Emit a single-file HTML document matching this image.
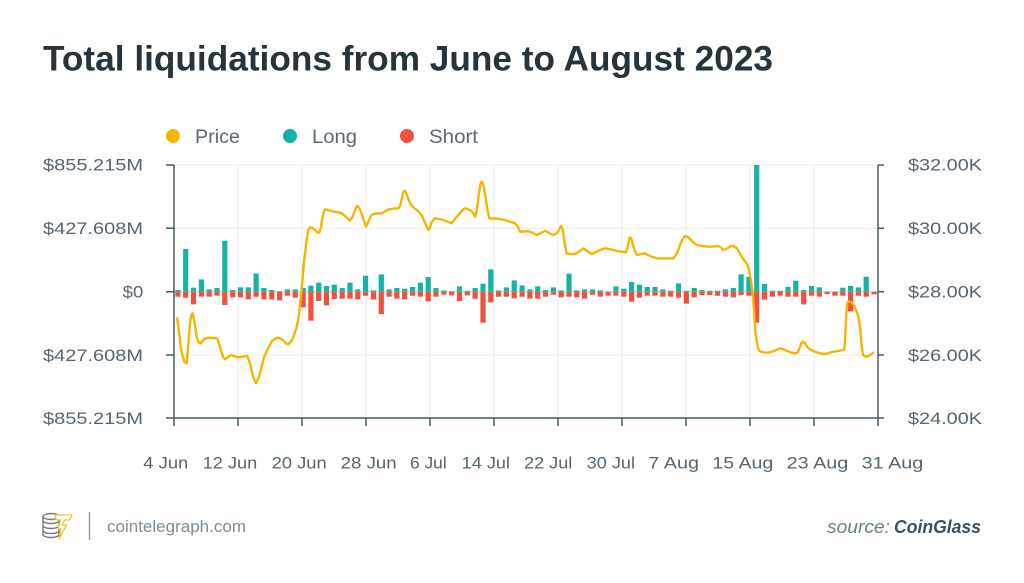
<!DOCTYPE html>
<html><head><meta charset="utf-8"><style>
html,body{margin:0;padding:0;background:#fff;}
svg{display:block;}
text{font-family:"Liberation Sans",sans-serif;}
</style></head><body>
<svg width="1024" height="583" viewBox="0 0 1024 583" xmlns="http://www.w3.org/2000/svg">
<rect width="1024" height="583" fill="#fff"/>
<text x="43" y="70.5" font-size="35" font-weight="bold" fill="#27343c" textLength="730" lengthAdjust="spacingAndGlyphs">Total liquidations from June to August 2023</text>
<circle cx="173" cy="136" r="7" fill="#f6b500"/>
<text x="195" y="143" font-size="19" fill="#5a6a74" textLength="45" lengthAdjust="spacingAndGlyphs">Price</text>
<circle cx="290" cy="136" r="7" fill="#14b3a6"/>
<text x="312" y="143" font-size="19" fill="#5a6a74" textLength="45" lengthAdjust="spacingAndGlyphs">Long</text>
<circle cx="407" cy="136" r="7" fill="#f1503c"/>
<text x="429" y="143" font-size="19" fill="#5a6a74" textLength="49" lengthAdjust="spacingAndGlyphs">Short</text>
<g stroke="#ececec" stroke-width="1">
<line x1="174" y1="165" x2="878" y2="165"/>
<line x1="174" y1="228.3" x2="878" y2="228.3"/>
<line x1="174" y1="355" x2="878" y2="355"/>
<line x1="238" y1="165" x2="238" y2="418"/>
<line x1="302" y1="165" x2="302" y2="418"/>
<line x1="366" y1="165" x2="366" y2="418"/>
<line x1="430" y1="165" x2="430" y2="418"/>
<line x1="494" y1="165" x2="494" y2="418"/>
<line x1="558" y1="165" x2="558" y2="418"/>
<line x1="622" y1="165" x2="622" y2="418"/>
<line x1="686" y1="165" x2="686" y2="418"/>
<line x1="750" y1="165" x2="750" y2="418"/>
<line x1="814" y1="165" x2="814" y2="418"/>
</g>
<g fill="#14b3a6">
<rect x="175.3" y="290" width="5.2" height="1.7"/>
<rect x="183.1" y="249" width="5.2" height="42.7"/>
<rect x="190.9" y="287.7" width="5.2" height="4"/>
<rect x="198.8" y="279.4" width="5.2" height="12.3"/>
<rect x="206.6" y="289.4" width="5.2" height="2.3"/>
<rect x="214.4" y="288" width="5.2" height="3.7"/>
<rect x="222.2" y="240.7" width="5.2" height="51"/>
<rect x="230.1" y="290" width="5.2" height="1.7"/>
<rect x="237.9" y="287.4" width="5.2" height="4.3"/>
<rect x="245.7" y="287.4" width="5.2" height="4.3"/>
<rect x="253.5" y="273.4" width="5.2" height="18.3"/>
<rect x="261.3" y="288" width="5.2" height="3.7"/>
<rect x="269.2" y="290" width="5.2" height="1.7"/>
<rect x="277" y="291.2" width="5.2" height="0.5"/>
<rect x="284.8" y="289.4" width="5.2" height="2.3"/>
<rect x="292.6" y="289.4" width="5.2" height="2.3"/>
<rect x="300.5" y="288" width="5.2" height="3.7"/>
<rect x="308.3" y="285.7" width="5.2" height="6"/>
<rect x="316.1" y="282.7" width="5.2" height="9"/>
<rect x="323.9" y="286" width="5.2" height="5.7"/>
<rect x="331.7" y="284.7" width="5.2" height="7"/>
<rect x="339.6" y="288" width="5.2" height="3.7"/>
<rect x="347.4" y="282.7" width="5.2" height="9"/>
<rect x="355.2" y="289.4" width="5.2" height="2.3"/>
<rect x="363" y="275.7" width="5.2" height="16"/>
<rect x="370.9" y="290.4" width="5.2" height="1.3"/>
<rect x="378.7" y="274.4" width="5.2" height="17.3"/>
<rect x="386.5" y="289.4" width="5.2" height="2.3"/>
<rect x="394.3" y="288" width="5.2" height="3.7"/>
<rect x="402.1" y="288.7" width="5.2" height="3"/>
<rect x="410" y="287" width="5.2" height="4.7"/>
<rect x="417.8" y="282.7" width="5.2" height="9"/>
<rect x="425.6" y="277" width="5.2" height="14.7"/>
<rect x="433.4" y="288" width="5.2" height="3.7"/>
<rect x="441.3" y="290.4" width="5.2" height="1.3"/>
<rect x="449.1" y="291.2" width="5.2" height="0.5"/>
<rect x="456.9" y="286.4" width="5.2" height="5.3"/>
<rect x="464.7" y="290.7" width="5.2" height="1"/>
<rect x="472.5" y="288" width="5.2" height="3.7"/>
<rect x="480.4" y="283.7" width="5.2" height="8"/>
<rect x="488.2" y="269.4" width="5.2" height="22.3"/>
<rect x="496" y="290.4" width="5.2" height="1.3"/>
<rect x="503.8" y="287.4" width="5.2" height="4.3"/>
<rect x="511.6" y="280.4" width="5.2" height="11.3"/>
<rect x="519.5" y="285.4" width="5.2" height="6.3"/>
<rect x="527.3" y="289.4" width="5.2" height="2.3"/>
<rect x="535.1" y="286.4" width="5.2" height="5.3"/>
<rect x="542.9" y="290" width="5.2" height="1.7"/>
<rect x="550.8" y="287.4" width="5.2" height="4.3"/>
<rect x="558.6" y="290.4" width="5.2" height="1.3"/>
<rect x="566.4" y="273.7" width="5.2" height="18"/>
<rect x="574.2" y="290.4" width="5.2" height="1.3"/>
<rect x="582" y="289.4" width="5.2" height="2.3"/>
<rect x="589.9" y="289.4" width="5.2" height="2.3"/>
<rect x="597.7" y="290.4" width="5.2" height="1.3"/>
<rect x="613.3" y="286.4" width="5.2" height="5.3"/>
<rect x="621.2" y="288.7" width="5.2" height="3"/>
<rect x="629" y="282" width="5.2" height="9.7"/>
<rect x="636.8" y="284.7" width="5.2" height="7"/>
<rect x="644.6" y="287" width="5.2" height="4.7"/>
<rect x="652.4" y="287" width="5.2" height="4.7"/>
<rect x="660.3" y="289.4" width="5.2" height="2.3"/>
<rect x="668.1" y="290.7" width="5.2" height="1"/>
<rect x="675.9" y="283.4" width="5.2" height="8.3"/>
<rect x="683.7" y="290.7" width="5.2" height="1"/>
<rect x="691.6" y="288" width="5.2" height="3.7"/>
<rect x="699.4" y="290" width="5.2" height="1.7"/>
<rect x="707.2" y="290.7" width="5.2" height="1"/>
<rect x="715" y="290.7" width="5.2" height="1"/>
<rect x="722.8" y="289.4" width="5.2" height="2.3"/>
<rect x="730.7" y="288" width="5.2" height="3.7"/>
<rect x="738.5" y="274.4" width="5.2" height="17.3"/>
<rect x="746.3" y="276.7" width="5.2" height="15"/>
<rect x="754.1" y="165" width="5.2" height="126.7"/>
<rect x="762" y="284" width="5.2" height="7.7"/>
<rect x="769.8" y="290.7" width="5.2" height="1"/>
<rect x="777.6" y="290.7" width="5.2" height="1"/>
<rect x="785.4" y="287" width="5.2" height="4.7"/>
<rect x="793.2" y="280.7" width="5.2" height="11"/>
<rect x="801.1" y="290" width="5.2" height="1.7"/>
<rect x="808.9" y="286" width="5.2" height="5.7"/>
<rect x="816.7" y="287.4" width="5.2" height="4.3"/>
<rect x="840.2" y="287.7" width="5.2" height="4"/>
<rect x="848" y="286" width="5.2" height="5.7"/>
<rect x="855.8" y="287.4" width="5.2" height="4.3"/>
<rect x="863.6" y="276.7" width="5.2" height="15"/>
</g>
<g fill="#f1503c">
<rect x="175.3" y="291.7" width="5.2" height="5"/>
<rect x="183.1" y="291.7" width="5.2" height="6"/>
<rect x="190.9" y="291.7" width="5.2" height="12.7"/>
<rect x="198.8" y="291.7" width="5.2" height="5"/>
<rect x="206.6" y="291.7" width="5.2" height="5"/>
<rect x="214.4" y="291.7" width="5.2" height="4"/>
<rect x="222.2" y="291.7" width="5.2" height="13.3"/>
<rect x="230.1" y="291.7" width="5.2" height="5.7"/>
<rect x="237.9" y="291.7" width="5.2" height="5.7"/>
<rect x="245.7" y="291.7" width="5.2" height="7.7"/>
<rect x="253.5" y="291.7" width="5.2" height="5"/>
<rect x="261.3" y="291.7" width="5.2" height="7.7"/>
<rect x="269.2" y="291.7" width="5.2" height="7.7"/>
<rect x="277" y="291.7" width="5.2" height="8.7"/>
<rect x="284.8" y="291.7" width="5.2" height="4"/>
<rect x="292.6" y="291.7" width="5.2" height="6"/>
<rect x="300.5" y="291.7" width="5.2" height="15.7"/>
<rect x="308.3" y="291.7" width="5.2" height="29"/>
<rect x="316.1" y="291.7" width="5.2" height="9.3"/>
<rect x="323.9" y="291.7" width="5.2" height="13.7"/>
<rect x="331.7" y="291.7" width="5.2" height="7.3"/>
<rect x="339.6" y="291.7" width="5.2" height="7"/>
<rect x="347.4" y="291.7" width="5.2" height="7"/>
<rect x="355.2" y="291.7" width="5.2" height="7.7"/>
<rect x="363" y="291.7" width="5.2" height="4"/>
<rect x="370.9" y="291.7" width="5.2" height="7.7"/>
<rect x="378.7" y="291.7" width="5.2" height="22.3"/>
<rect x="386.5" y="291.7" width="5.2" height="5"/>
<rect x="394.3" y="291.7" width="5.2" height="7"/>
<rect x="402.1" y="291.7" width="5.2" height="7.7"/>
<rect x="410" y="291.7" width="5.2" height="4"/>
<rect x="417.8" y="291.7" width="5.2" height="5"/>
<rect x="425.6" y="291.7" width="5.2" height="9.7"/>
<rect x="433.4" y="291.7" width="5.2" height="5"/>
<rect x="441.3" y="291.7" width="5.2" height="3"/>
<rect x="449.1" y="291.7" width="5.2" height="3.7"/>
<rect x="456.9" y="291.7" width="5.2" height="9.3"/>
<rect x="464.7" y="291.7" width="5.2" height="3.7"/>
<rect x="472.5" y="291.7" width="5.2" height="7"/>
<rect x="480.4" y="291.7" width="5.2" height="31"/>
<rect x="488.2" y="291.7" width="5.2" height="10.7"/>
<rect x="496" y="291.7" width="5.2" height="5"/>
<rect x="503.8" y="291.7" width="5.2" height="5"/>
<rect x="511.6" y="291.7" width="5.2" height="6.7"/>
<rect x="519.5" y="291.7" width="5.2" height="5"/>
<rect x="527.3" y="291.7" width="5.2" height="7"/>
<rect x="535.1" y="291.7" width="5.2" height="7"/>
<rect x="542.9" y="291.7" width="5.2" height="5"/>
<rect x="550.8" y="291.7" width="5.2" height="3"/>
<rect x="558.6" y="291.7" width="5.2" height="5.7"/>
<rect x="566.4" y="291.7" width="5.2" height="5"/>
<rect x="574.2" y="291.7" width="5.2" height="5.7"/>
<rect x="582" y="291.7" width="5.2" height="7"/>
<rect x="589.9" y="291.7" width="5.2" height="3"/>
<rect x="597.7" y="291.7" width="5.2" height="5"/>
<rect x="605.5" y="291.7" width="5.2" height="4"/>
<rect x="613.3" y="291.7" width="5.2" height="4"/>
<rect x="621.2" y="291.7" width="5.2" height="5"/>
<rect x="629" y="291.7" width="5.2" height="10"/>
<rect x="636.8" y="291.7" width="5.2" height="6"/>
<rect x="644.6" y="291.7" width="5.2" height="4"/>
<rect x="652.4" y="291.7" width="5.2" height="4"/>
<rect x="660.3" y="291.7" width="5.2" height="5"/>
<rect x="668.1" y="291.7" width="5.2" height="5"/>
<rect x="675.9" y="291.7" width="5.2" height="6"/>
<rect x="683.7" y="291.7" width="5.2" height="12"/>
<rect x="691.6" y="291.7" width="5.2" height="5.7"/>
<rect x="699.4" y="291.7" width="5.2" height="3.3"/>
<rect x="707.2" y="291.7" width="5.2" height="3.3"/>
<rect x="715" y="291.7" width="5.2" height="4"/>
<rect x="722.8" y="291.7" width="5.2" height="5"/>
<rect x="730.7" y="291.7" width="5.2" height="5.7"/>
<rect x="738.5" y="291.7" width="5.2" height="3.3"/>
<rect x="746.3" y="291.7" width="5.2" height="4"/>
<rect x="754.1" y="291.7" width="5.2" height="31"/>
<rect x="762" y="291.7" width="5.2" height="8"/>
<rect x="769.8" y="291.7" width="5.2" height="5"/>
<rect x="777.6" y="291.7" width="5.2" height="4"/>
<rect x="785.4" y="291.7" width="5.2" height="5"/>
<rect x="793.2" y="291.7" width="5.2" height="5"/>
<rect x="801.1" y="291.7" width="5.2" height="12.7"/>
<rect x="808.9" y="291.7" width="5.2" height="4"/>
<rect x="816.7" y="291.7" width="5.2" height="5"/>
<rect x="824.5" y="291.7" width="5.2" height="2.3"/>
<rect x="832.4" y="291.7" width="5.2" height="4"/>
<rect x="840.2" y="291.7" width="5.2" height="4"/>
<rect x="848" y="291.7" width="5.2" height="19.7"/>
<rect x="855.8" y="291.7" width="5.2" height="4"/>
<rect x="863.6" y="291.7" width="5.2" height="5"/>
<rect x="871.5" y="291.7" width="5.2" height="2.7"/>
</g>
<line x1="174" y1="291.7" x2="878" y2="291.7" stroke="#8f9ca3" stroke-opacity="0.55" stroke-width="1"/>
<polyline fill="none" stroke="#f6b500" stroke-width="2.4" stroke-linejoin="round" stroke-linecap="round" points="177.3,318.3 179,332 181,348 182.7,356.7 184.5,362 186.7,363.3 188.3,345 190,323.3 191.5,314.5 192.7,313.3 194.5,322 196.7,336.7 198.5,342 200.7,343.3 204,339 208.3,337.7 214,338 217.3,338.5 219.5,345 221,350 223,357 225,359.3 228,357 231.7,355 235,356.5 238.3,357.3 243,356.5 247.3,356 249.5,362 251,368 253.5,378 256,383.3 259,377 262,365 264.5,356 267.3,350 272,341 276.7,337.7 280,338.5 283,340 286,343.5 288.3,344.3 290.5,342 292,340 294.5,334 296.7,326.7 298.5,318 300,305 301.5,291 302.7,276.7 304,262 305.5,250 307,238 308.3,230 310,227.3 312.5,228 315,230 317.5,232.5 319.3,232.7 321,227 322,220 323.5,213 325,209.3 328,210 333.3,211.7 337,212 341.7,213.3 346,217 350,220.7 352.5,217 354,213 356,207.5 357.3,206 359,207.5 361,212 363.5,220 366,226.7 368,223 369,220 371,216 373.3,214 377,213.5 381.7,213.3 385,211.5 389.3,209.3 394,208.5 398.3,208.3 400,206 401.5,200 403,193 404,190.7 405.5,191.5 407,195 408.5,199.5 410,203.3 413,207 416.7,210 419.5,212.5 422,216 425.5,224 428.3,230 430,227.5 431.5,222.5 435,218.3 439,219 443.3,220 447,221.5 451.7,223.3 455,219 458.3,215 461.5,211 465,208.3 470,210 473,212.5 475,216.7 476.5,212 478,200 479.5,190 480.7,183 481.7,181.7 483,184 484,188 485,194 486,200 487.5,210 489.3,218.3 493,218.5 498.3,218.7 502,219.5 506.7,220.7 511,222 515,223.3 517.5,226 520,231.7 524,231.5 528.3,231 532,232.5 536.7,235 541,233 545,230.7 549,233 552.7,235 555.5,234 558,232 561,226 562.5,229 563.5,235 565,245 566.7,253.3 570,254 575,254 579,251.5 583.3,248.3 587,251 591.7,254 596,252 600,250 605,248.3 609,249 613,250 617,251 621.7,251.7 626,252.3 627.5,248 629,240 630,237.3 631.5,239 633,245 635,251.5 637.3,255 641,254 645,253.3 650,256 656.7,258.3 665,258.5 673.3,258.3 676,255 678.3,250 680,245 682,240 684,237 686,236 688.5,237.5 691,240 694,243 696.7,245 702,246 708.3,246.7 713,246.5 718.3,246 721,247.5 723.3,250 726,249 728,248 731,246 733.3,246 736,247.5 738,250 741.7,256.7 744,260 746.7,263.3 748.5,268 750,275 751.5,284 752.7,293.3 753.7,306 754.5,318 755.3,330 756,336.7 757,343 758,348 759.5,351 760.7,351.7 764,352.5 768.3,352.7 774,351 780,348.3 784,349.5 787,351 791,352.5 795,353.3 797.5,352.5 799,350 801,344 802.7,341.7 804.5,342.5 806,345 808,347.5 810,349.3 813,351 817,352.5 821,353.5 825,354 829,353 832,352 838.3,351 844,350 845,342 845.5,330 846.3,314 847.3,303.3 848.5,301.5 850,301.7 851.5,302.5 853,304 854.5,306.5 856,310 857.5,314 858.5,318 859.3,322 860,326.7 860.8,336 861.5,345 862.3,351 863.3,355 865,356.5 866.7,356.7 868.5,356 870,355 873.3,352.7"/>
<g stroke="#4a5b65" stroke-width="1.5" fill="none">
<line x1="174" y1="165" x2="174" y2="418"/>
<line x1="878" y1="165" x2="878" y2="418"/>
<line x1="166" y1="418" x2="884" y2="418"/>
<path d="M166 165H174M166 228.3H174M166 291.7H174M166 355H174M878 165H884M878 228.3H884M878 291.7H884M878 355H884"/>
<path d="M174 418V426M238 418V426M302 418V426M366 418V426M430 418V426M494 418V426M558 418V426M622 418V426M686 418V426M750 418V426M814 418V426M878 418V426"/>
</g>
<g font-size="17" fill="#56656f">
<text x="43" y="170.5" textLength="100" lengthAdjust="spacingAndGlyphs">$855.215M</text>
<text x="43" y="234" textLength="100" lengthAdjust="spacingAndGlyphs">$427.608M</text>
<text x="122.7" y="297.5" textLength="20.6" lengthAdjust="spacingAndGlyphs">$0</text>
<text x="43" y="361" textLength="100" lengthAdjust="spacingAndGlyphs">$427.608M</text>
<text x="43" y="424" textLength="100" lengthAdjust="spacingAndGlyphs">$855.215M</text>
<text x="908" y="170.5" textLength="74" lengthAdjust="spacingAndGlyphs">$32.00K</text>
<text x="908" y="234" textLength="74" lengthAdjust="spacingAndGlyphs">$30.00K</text>
<text x="908" y="297.5" textLength="74" lengthAdjust="spacingAndGlyphs">$28.00K</text>
<text x="908" y="361" textLength="74" lengthAdjust="spacingAndGlyphs">$26.00K</text>
<text x="908" y="424" textLength="74" lengthAdjust="spacingAndGlyphs">$24.00K</text>
<text x="143.3" y="468.3" textLength="45" lengthAdjust="spacingAndGlyphs">4 Jun</text>
<text x="202.7" y="468.3" textLength="54.6" lengthAdjust="spacingAndGlyphs">12 Jun</text>
<text x="271.7" y="468.3" textLength="55" lengthAdjust="spacingAndGlyphs">20 Jun</text>
<text x="340.7" y="468.3" textLength="56" lengthAdjust="spacingAndGlyphs">28 Jun</text>
<text x="410" y="468.3" textLength="36.7" lengthAdjust="spacingAndGlyphs">6 Jul</text>
<text x="461.7" y="468.3" textLength="48.3" lengthAdjust="spacingAndGlyphs">14 Jul</text>
<text x="524" y="468.3" textLength="48.3" lengthAdjust="spacingAndGlyphs">22 Jul</text>
<text x="586.7" y="468.3" textLength="48.3" lengthAdjust="spacingAndGlyphs">30 Jul</text>
<text x="648.3" y="468.3" textLength="50.7" lengthAdjust="spacingAndGlyphs">7 Aug</text>
<text x="712.3" y="468.3" textLength="61" lengthAdjust="spacingAndGlyphs">15 Aug</text>
<text x="786.7" y="468.3" textLength="61.6" lengthAdjust="spacingAndGlyphs">23 Aug</text>
<text x="861.7" y="468.3" textLength="61.6" lengthAdjust="spacingAndGlyphs">31 Aug</text>
</g>
<g fill="none" stroke="#6f7b82" stroke-width="1.4">
<ellipse cx="51" cy="516.5" rx="8" ry="3"/>
<path d="M43 516.5v4a8 3 0 0 0 16 0v-4M43 520.5v5a8 3 0 0 0 16 0v-5M43 525.5v5a8 3 0 0 0 16 0v-5M43 530.5v4a8 3 0 0 0 16 0v-4"/>
</g>
<path d="M55 515h17l-2.5 5h-5l-2 5h4l-7.5 14l2-10h-3l2.5-9h-4.5z" fill="#fff" stroke="#f6c21a" stroke-width="1.3" stroke-linejoin="round"/>
<line x1="89.5" y1="512" x2="89.5" y2="540" stroke="#9aa3a8" stroke-width="1.5"/>
<text x="107" y="532" font-size="17" fill="#7d8b94" textLength="139" lengthAdjust="spacingAndGlyphs">cointelegraph.com</text>
<text x="827" y="533" font-size="18" font-style="italic" fill="#6d7e88" textLength="63" lengthAdjust="spacingAndGlyphs">source:</text>
<text x="894" y="533" font-size="18" font-style="italic" font-weight="bold" fill="#3e505b" textLength="87" lengthAdjust="spacingAndGlyphs">CoinGlass</text>
</svg>
</body></html>
